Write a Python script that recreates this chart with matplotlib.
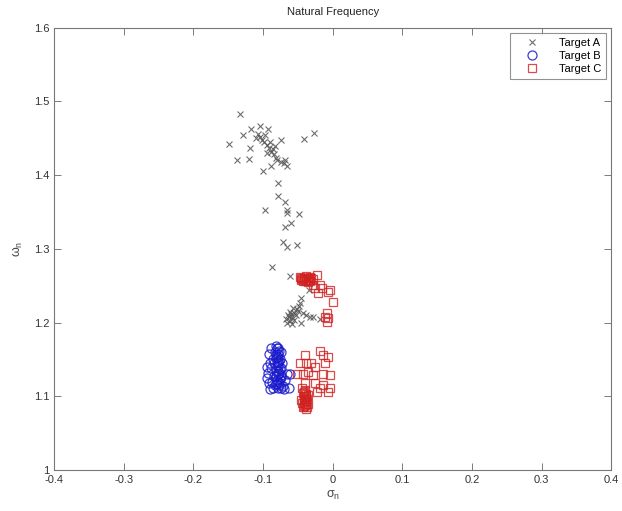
import numpy as np
import matplotlib
matplotlib.use('Agg')
import matplotlib.pyplot as plt

plt.rcParams['font.family'] = ['Liberation Sans', 'DejaVu Sans']
plt.rcParams['mathtext.fontset'] = 'custom'
plt.rcParams['mathtext.rm'] = 'Liberation Sans'
plt.rcParams['mathtext.it'] = 'Liberation Sans'

# Target A (x markers)
a_x = [-0.133, -0.129, -0.117, -0.105, -0.093, -0.149, -0.119, -0.138, -0.120, -0.100,
       -0.088, -0.078, -0.041, -0.027, -0.074,
       -0.104, -0.101, -0.098, -0.095, -0.092, -0.089, -0.086, -0.083, -0.107, -0.110,
       -0.097, -0.090, -0.094, -0.085,
       -0.080, -0.074, -0.070, -0.066, -0.082, -0.068,
       -0.078, -0.069, -0.066, -0.066, -0.097, -0.048, -0.060, -0.069, -0.072, -0.066,
       -0.051, -0.087, -0.061, -0.034, -0.045, -0.047, -0.052,
       -0.067, -0.064, -0.061, -0.058, -0.055, -0.062, -0.066, -0.059, -0.056, -0.053,
       -0.063, -0.060, -0.050, -0.057, -0.033, -0.029, -0.043, -0.045, -0.048, -0.038, -0.018]
a_y = [1.483, 1.455, 1.462, 1.467, 1.462, 1.442, 1.437, 1.421, 1.422, 1.406,
       1.412, 1.389, 1.449, 1.457, 1.447,
       1.452, 1.448, 1.445, 1.441, 1.437, 1.432, 1.435, 1.440, 1.456, 1.450,
       1.455, 1.445, 1.430, 1.428,
       1.420, 1.418, 1.416, 1.413, 1.423, 1.420,
       1.371, 1.364, 1.353, 1.348, 1.353, 1.347, 1.335, 1.329, 1.309, 1.303,
       1.305, 1.275, 1.263, 1.244, 1.233, 1.226, 1.219,
       1.205, 1.210, 1.202, 1.208, 1.213, 1.215, 1.199, 1.198, 1.204, 1.210,
       1.207, 1.212, 1.216, 1.220, 1.208, 1.207, 1.213, 1.199, 1.222, 1.210, 1.205]

# Target B (circles)
b_x = [-0.082, -0.079, -0.083, -0.078, -0.081, -0.077, -0.084, -0.080, -0.076, -0.082,
       -0.078, -0.085, -0.074, -0.080, -0.076, -0.083, -0.072, -0.078, -0.086, -0.075,
       -0.088, -0.073, -0.079, -0.081,
       -0.080, -0.077, -0.081, -0.079, -0.076, -0.080, -0.078, -0.075, -0.079, -0.077,
       -0.074, -0.076, -0.079, -0.081, -0.077, -0.075,
       -0.091, -0.088, -0.093, -0.092, -0.095, -0.090, -0.087, -0.066, -0.063, -0.061,
       -0.070, -0.068, -0.090, -0.086, -0.094]
b_y = [1.168, 1.165, 1.160, 1.157, 1.152, 1.148, 1.145, 1.141, 1.137, 1.134,
       1.130, 1.127, 1.126, 1.122, 1.118, 1.115, 1.114, 1.111, 1.150, 1.160,
       1.138, 1.145, 1.147, 1.127,
       1.166, 1.162, 1.156, 1.153, 1.150, 1.146, 1.142, 1.139, 1.135, 1.132,
       1.129, 1.124, 1.120, 1.117, 1.115, 1.112,
       1.158, 1.165, 1.132, 1.118, 1.125, 1.110, 1.120, 1.130, 1.112, 1.130,
       1.110, 1.122, 1.145, 1.112, 1.140]

# Target C (squares)
c_x = [-0.047, -0.044, -0.041, -0.038, -0.035, -0.032, -0.029, -0.043, -0.039, -0.036,
       -0.045, -0.033, -0.040, -0.042, -0.037, -0.034, -0.046, -0.031,
       -0.023, -0.029, -0.019, -0.016, -0.004, -0.021, -0.007, 0.000, -0.009, -0.007,
       -0.011, -0.009, -0.026,
       -0.044, -0.040, -0.043, -0.039, -0.042, -0.038, -0.044, -0.040, -0.043, -0.039,
       -0.036, -0.046, -0.035, -0.041, -0.037, -0.041, -0.038, -0.042, -0.040, -0.037,
       -0.041, -0.039,
       -0.040, -0.019, -0.014, -0.007, -0.047, -0.038, -0.031, -0.026, -0.011, -0.052,
       -0.043, -0.035, -0.028, -0.014, -0.004, -0.040, -0.026, -0.014, -0.004, -0.019,
       -0.007, -0.023]
c_y = [1.262, 1.259, 1.261, 1.258, 1.260, 1.257, 1.259, 1.256, 1.263, 1.255,
       1.258, 1.262, 1.257, 1.260, 1.261, 1.258, 1.261, 1.260,
       1.265, 1.251, 1.251, 1.247, 1.244, 1.240, 1.242, 1.228, 1.213, 1.206,
       1.208, 1.201, 1.247,
       1.112, 1.108, 1.104, 1.100, 1.097, 1.094, 1.091, 1.088, 1.085, 1.083,
       1.090, 1.095, 1.102, 1.092, 1.086, 1.106, 1.103, 1.099, 1.096, 1.097,
       1.087, 1.090,
       1.156, 1.161, 1.156, 1.154, 1.145, 1.145, 1.145, 1.140, 1.145, 1.131,
       1.131, 1.133, 1.129, 1.131, 1.129, 1.118, 1.118, 1.115, 1.111, 1.111,
       1.106, 1.106]

fig = plt.figure(figsize=(6.22, 5.11), dpi=100)
ax = fig.add_axes([0.087, 0.080, 0.896, 0.866])

ax.plot(a_x, a_y, 'x', color='#555555', ms=5, mew=0.8, alpha=0.85, label='Target A')
ax.plot(b_x, b_y, 'o', mfc='none', mec='#1a1acc', ms=6.5, mew=0.9, alpha=0.85, label='Target B')
ax.plot(c_x, c_y, 's', mfc='none', mec='#d02020', ms=5.5, mew=0.9, alpha=0.8, label='Target C')

ax.set_xlim(-0.4, 0.4)
ax.set_ylim(1, 1.6)
ax.set_xticks(np.arange(-0.4, 0.41, 0.1))
ax.set_xticklabels(['-0.4', '-0.3', '-0.2', '-0.1', '0', '0.1', '0.2', '0.3', '0.4'])
ax.set_yticks(np.arange(1.0, 1.61, 0.1))
ax.set_yticklabels(['1', '1.1', '1.2', '1.3', '1.4', '1.5', '1.6'])
ax.tick_params(direction='in', top=True, right=True, length=5, width=0.6,
               colors='#666666', labelcolor='#333333', labelsize=8)
for s in ax.spines.values():
    s.set_color('#777777')
    s.set_linewidth(0.8)

ax.set_title('Natural Frequency', fontsize=8, color='#222222', pad=9)
ax.set_xlabel(r'$\sigma_\mathrm{n}$', fontsize=9, color='#444444', labelpad=3)
ax.set_ylabel(r'$\omega_\mathrm{n}$', fontsize=9, color='#444444', labelpad=6)

leg = ax.legend(loc='upper right', fontsize=8, frameon=True, fancybox=False,
                borderaxespad=0.5, handlelength=3.2, handletextpad=0.8,
                labelspacing=0.3, borderpad=0.4)
leg.get_frame().set_edgecolor('#777777')
leg.get_frame().set_linewidth(0.8)

fig.savefig('out.png', dpi=100)
